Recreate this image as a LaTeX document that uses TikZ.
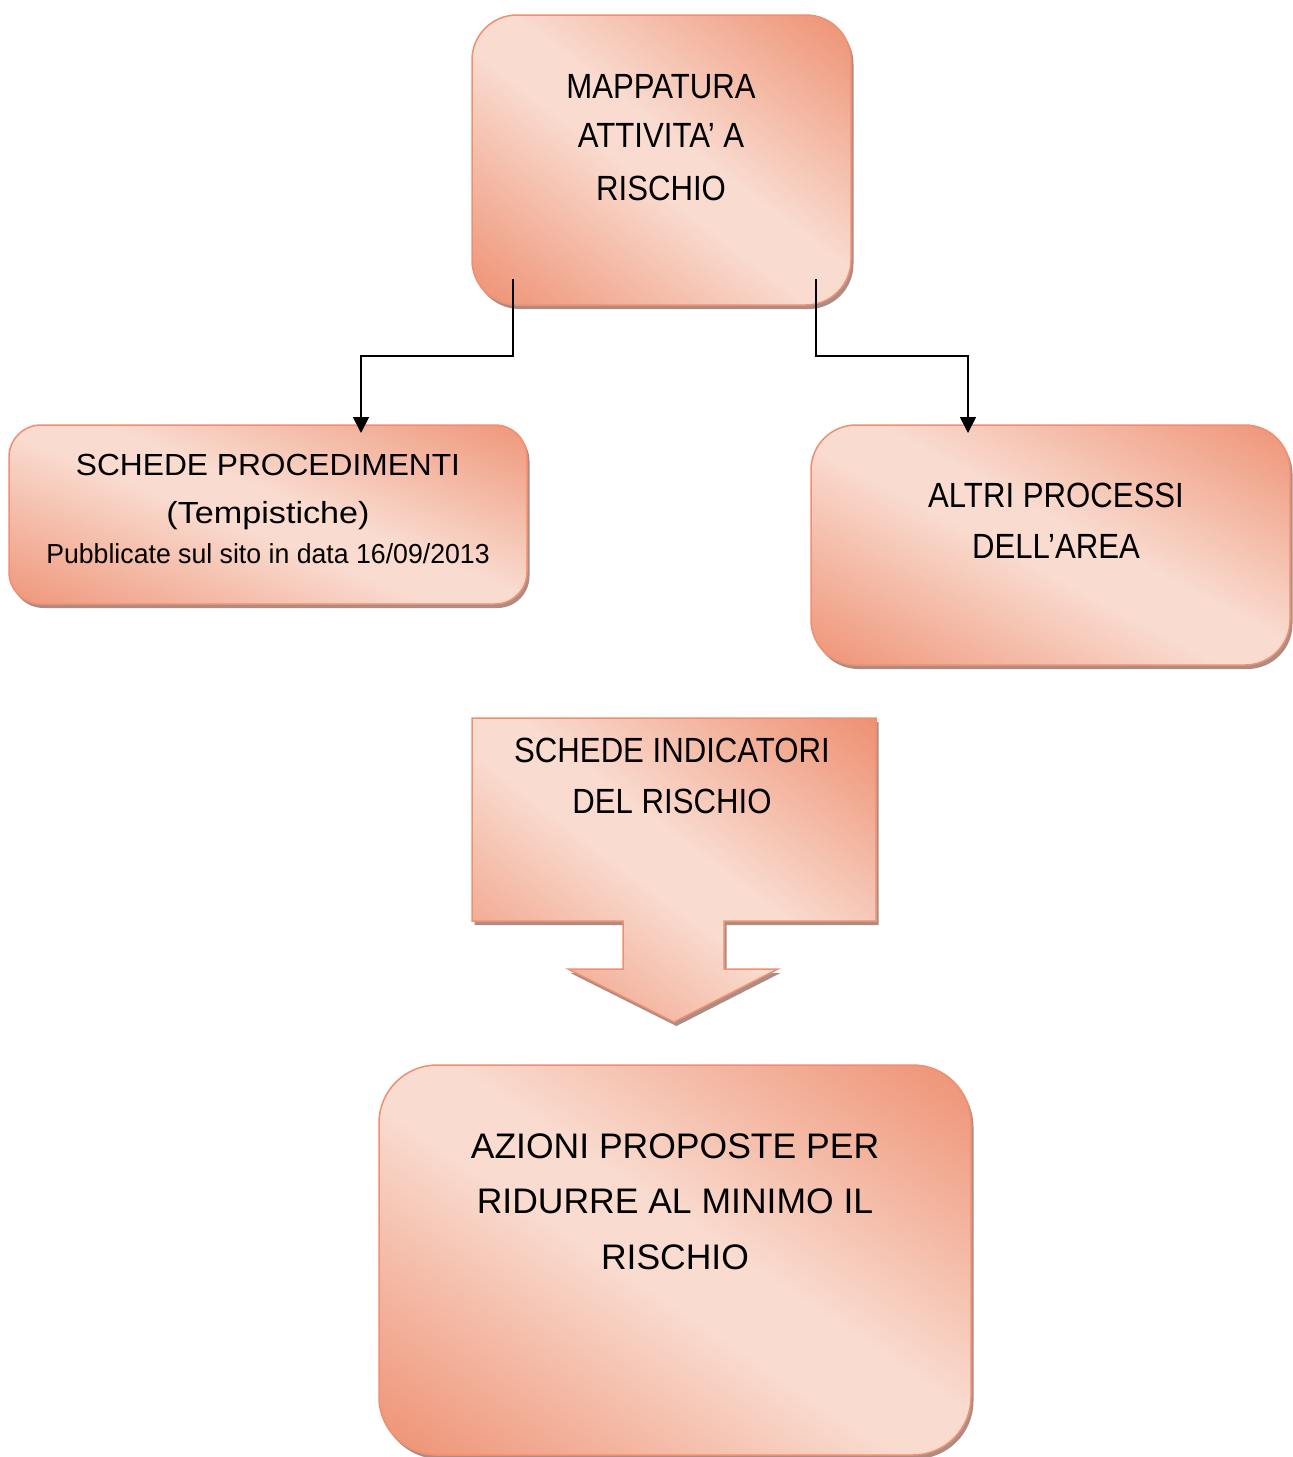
\documentclass[tikz,border=0pt]{standalone}
\usepackage{fontspec}
\setmainfont{Liberation Sans}
\newfontfamily\fnorm{Liberation Sans}
\newfontfamily\fcond[FakeStretch=0.89]{Liberation Sans}
\newfontfamily\fwideA[FakeStretch=1.04]{Liberation Sans}
\newfontfamily\fwideB[FakeStretch=1.12]{Liberation Sans}
\newfontfamily\fpub[FakeStretch=0.97]{Liberation Sans}
\usetikzlibrary{arrows.meta,backgrounds}
\definecolor{sdark}{RGB}{237,137,105}
\definecolor{slight}{RGB}{249,219,207}
\definecolor{sborder}{RGB}{240,142,112}
\definecolor{sshadow}{RGB}{150,112,102}
\pgfdeclarehorizontalshading{salmonsh}{100bp}{color(0bp)=(sdark); color(12bp)=(sdark); color(46bp)=(slight); color(54bp)=(slight); color(88bp)=(sdark); color(100bp)=(sdark)}
\tikzset{
  boxstyle/.style={draw=sborder, line width=1.5pt, inner sep=0pt, outer sep=0pt,
    shading=salmonsh},
  shadowstyle/.style={fill=sshadow, opacity=0.8},
  txt/.style={anchor=base, inner sep=0pt, text=black},
  conn/.style={draw=black, line width=1.8pt, -{Triangle[length=16pt,width=16pt]}},
}
\def\arrowpath{(472,718) -- (876,718) -- (876,921) -- (724,921) -- (724,969)
  -- (778,969) -- (674,1022) -- (568,969) -- (623,969) -- (623,921) -- (472,921) -- cycle}
\begin{document}
\begin{tikzpicture}[x=1pt,y=-1pt]
\useasboundingbox (0,0) rectangle (1293,1457);

% top box
\node[boxstyle, rounded corners=45pt, shading angle=53, minimum width=379pt, minimum height=290pt] (top) at (661.5,160) {};
\node[txt] (top1) at (661,98) {\fcond\fontsize{35}{40}\selectfont MAPPATURA};
\node[txt] (top2) at (661,147) {\fcond\fontsize{35}{40}\selectfont ATTIVITA’ A};
\node[txt] (top3) at (661,200) {\fcond\fontsize{35}{40}\selectfont RISCHIO};

% left box
\node[boxstyle, rounded corners=32pt, shading angle=68, minimum width=518pt, minimum height=179pt] (left) at (268,514.5) {};
\node[txt] (left1) at (268,475) {\fwideA\fontsize{30.5}{36}\selectfont SCHEDE PROCEDIMENTI};
\node[txt] (left2) at (268,523) {\fwideB\fontsize{30.5}{36}\selectfont (Tempistiche)};
\node[txt] (left3) at (268,563) {\fpub\fontsize{27.5}{32}\selectfont Pubblicate sul sito in data 16/09/2013};

% right box
\node[boxstyle, rounded corners=45pt, shading angle=62, minimum width=479pt, minimum height=240pt] (right) at (1050.5,545) {};
\node[txt] (right1) at (1056,507) {\fcond\fontsize{35}{40}\selectfont ALTRI PROCESSI};
\node[txt] (right2) at (1056,558) {\fcond\fontsize{35}{40}\selectfont DELL’AREA};

% arrow-shaped box
\path[boxstyle, shading angle=53] \arrowpath;
\node[txt] (mid1) at (672,762) {\fcond\fontsize{35}{40}\selectfont SCHEDE INDICATORI};
\node[txt] (mid2) at (672,813) {\fcond\fontsize{35}{40}\selectfont DEL RISCHIO};

% bottom box
\node[boxstyle, rounded corners=58pt, shading angle=56, minimum width=592pt, minimum height=390pt] (bot) at (675,1260) {};
\node[txt] (bot1) at (675,1158) {\fnorm\fontsize{35.5}{40}\selectfont AZIONI PROPOSTE PER};
\node[txt] (bot2) at (675,1213) {\fnorm\fontsize{35.5}{40}\selectfont RIDURRE AL MINIMO IL};
\node[txt] (bot3) at (675,1269) {\fnorm\fontsize{35.5}{40}\selectfont RISCHIO};

% shadows
\begin{pgfonlayer}{background}
  \fill[shadowstyle, rounded corners=45pt] ([shift={(2.5,4)}]top.north west) rectangle ([shift={(2.5,4)}]top.south east);
  \fill[shadowstyle, rounded corners=32pt] ([shift={(2.5,4)}]left.north west) rectangle ([shift={(2.5,4)}]left.south east);
  \fill[shadowstyle, rounded corners=45pt] ([shift={(2.5,4)}]right.north west) rectangle ([shift={(2.5,4)}]right.south east);
  \fill[shadowstyle, rounded corners=58pt] ([shift={(2.5,4)}]bot.north west) rectangle ([shift={(2.5,4)}]bot.south east);
  \begin{scope}[shift={(2.5,4)}]
    \fill[shadowstyle] \arrowpath;
  \end{scope}
\end{pgfonlayer}

% connectors
\coordinate (la) at (513,279);
\coordinate (lb) at (361,433);
\coordinate (ra) at (816,279);
\coordinate (rb) at (968,433);
\draw[conn] (la) -- (513,356) -| (lb);
\draw[conn] (ra) -- (816,356) -| (rb);
\end{tikzpicture}
\end{document}
